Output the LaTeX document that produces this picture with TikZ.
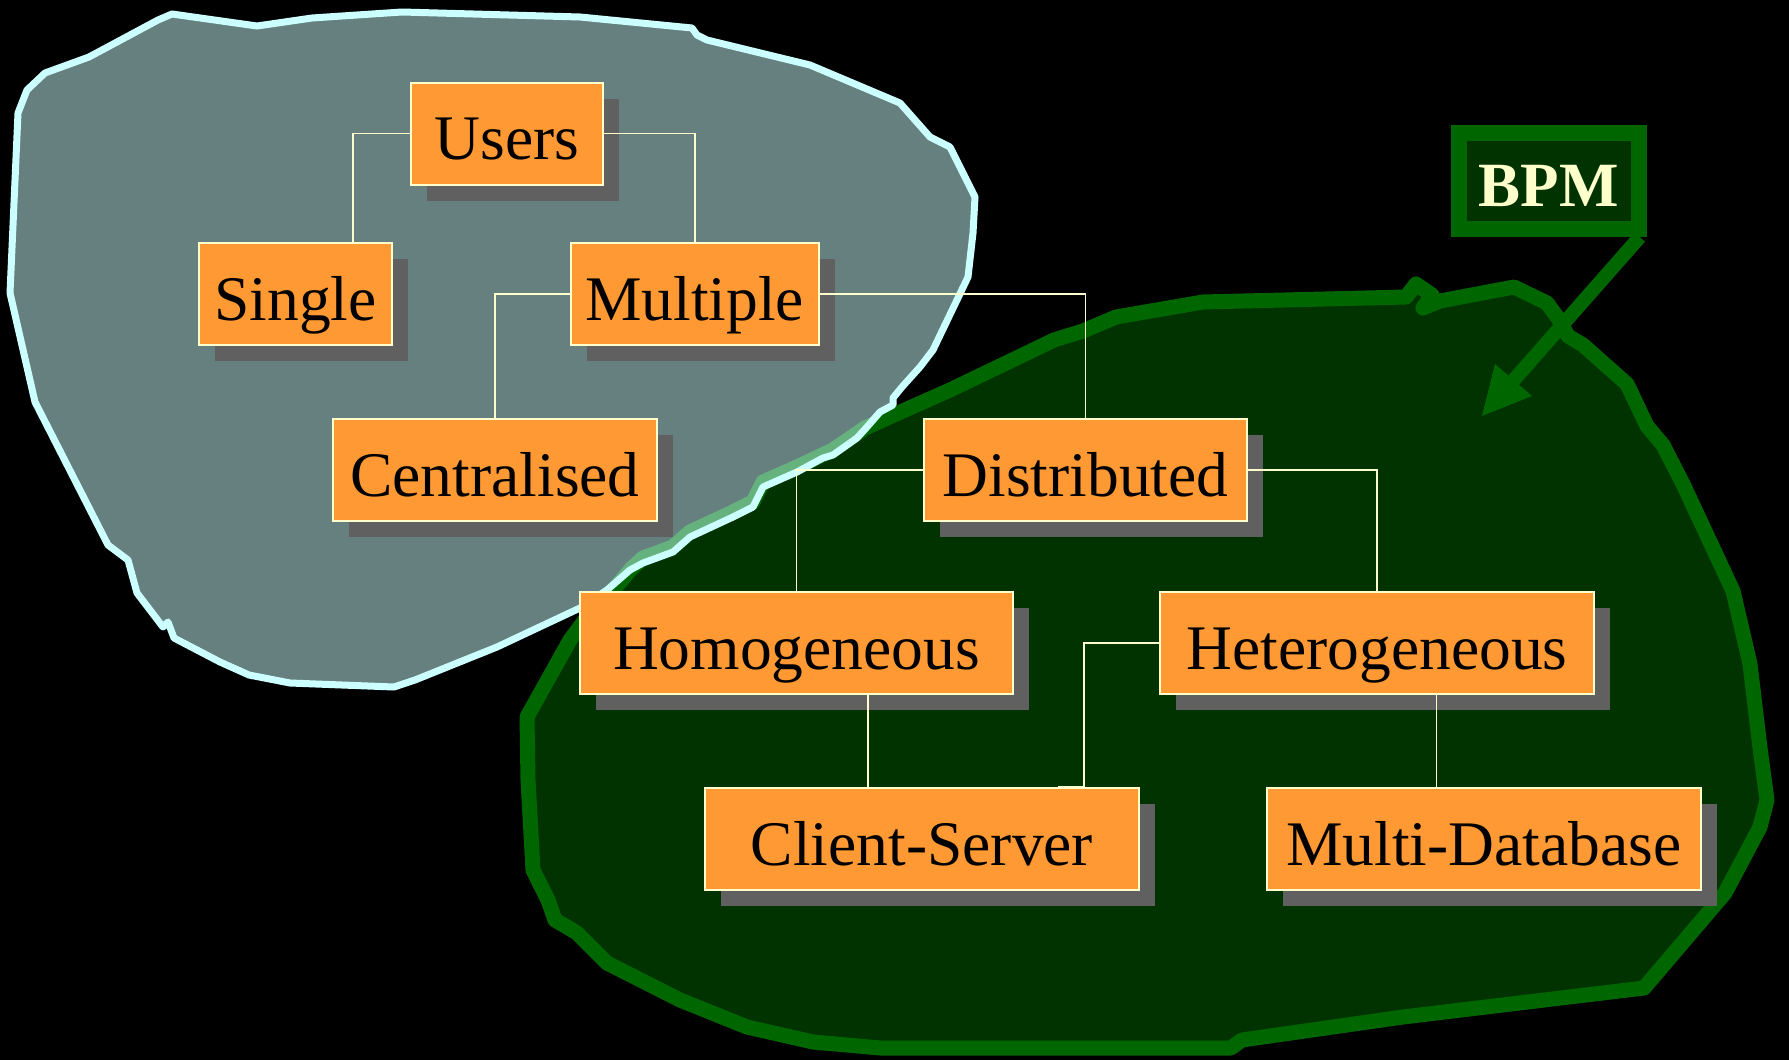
\documentclass[tikz,border=0pt]{standalone}
\usepackage{fontspec}
\setmainfont{Liberation Serif}
\usetikzlibrary{shadows}
\definecolor{bluegray}{RGB}{102,128,128}
\definecolor{paleblue}{RGB}{204,255,255}
\definecolor{midgreen}{RGB}{0,102,0}
\definecolor{deepgreen}{RGB}{0,51,0}
\definecolor{lightgreen}{RGB}{102,178,127}
\definecolor{boxorange}{RGB}{255,153,51}
\definecolor{cream}{RGB}{255,255,204}
\definecolor{shadowgray}{RGB}{96,96,96}
\newcommand{\LeftBlob}[1]{\path[#1] (172,14) -- (257,26) -- (312,18) -- (402,12) -- (580,17) -- (692,28) -- (697,35) -- (707,40) -- (810,65) -- (900,103) -- (930,137) -- (950,147) -- (975,197) -- (973,233) -- (968,277) -- (957,300) -- (933,350) -- (920,367) -- (902,387) -- (893,398) -- (893,405) -- (880,412) -- (867,427) -- (857,438) -- (833,455) -- (823,458) -- (797,472) -- (763,487) -- (753,507) -- (733,517) -- (690,537) -- (673,552) -- (643,563) -- (630,570) -- (607,590) -- (580,608) -- (497,647) -- (415,680) -- (394,687) -- (290,683) -- (249,675) -- (220,662) -- (174,638) -- (168,622) -- (163,627) -- (137,593) -- (128,560) -- (112,548) -- (108,545) -- (35,402) -- (10,293) -- (18,113) -- (27,90) -- (45,73) -- (89,57) -- (158,20) -- cycle;}
\newcommand{\RightBlob}[1]{\path[#1] (643,558) -- (673,547) -- (690,532) -- (733,512) -- (753,502) -- (763,482) -- (797,467) -- (833,450) -- (865,428) -- (905,410) -- (950,390) -- (1000,366) -- (1054,340) -- (1083,331) -- (1116,317) -- (1203,302) -- (1406,297) -- (1416,284) -- (1432,295) -- (1423,308) -- (1440,301) -- (1514,287) -- (1547,303) -- (1558,318) -- (1568,336) -- (1583,345) -- (1627,384) -- (1647,426) -- (1663,445) -- (1683,484) -- (1733,591) -- (1750,664) -- (1760,748) -- (1767,800) -- (1760,827) -- (1725,893) -- (1644,988) -- (1403,1017) -- (1242,1040) -- (1231,1048) -- (880,1048) -- (813,1042) -- (747,1027) -- (680,1000) -- (607,963) -- (577,933) -- (567,927) -- (555,920) -- (548,900) -- (533,870) -- (528,780) -- (527,717) -- (570,640) -- (585,620) -- (615,588) -- (632,568) -- cycle;}
\tikzset{
  catbox/.style={draw=cream, line width=2pt, line join=miter, fill=boxorange, text=black,
    inner sep=0pt, minimum height=102pt, text height=52pt, text depth=0pt,
    font=\fontsize{63.5}{70}\selectfont,
    drop shadow={shadow xshift=16pt, shadow yshift=-16pt, fill=shadowgray, opacity=1}},
  link/.style={draw=cream, line width=1.5pt, line join=miter},
  tagbox/.style={draw=midgreen, line width=16pt, line join=miter, fill=deepgreen, text=cream,
    minimum width=180pt, minimum height=96pt, inner sep=0pt,
    text height=51pt, text depth=0pt, font=\bfseries\fontsize{63}{70}\selectfont},
}
\begin{document}
\begin{tikzpicture}[x=1pt, y=-1pt, line join=round]
\useasboundingbox (0,0) rectangle (1789,1060);
\fill[black] (0,0) rectangle (1789,1060);
% right (green) region
\RightBlob{fill=deepgreen, draw=midgreen, line width=15pt}
% left (blue-gray) region
\LeftBlob{fill=bluegray}
\begin{scope}
  \LeftBlob{clip}
  \RightBlob{draw=lightgreen, line width=15pt}
\end{scope}
\LeftBlob{draw=paleblue, line width=7pt}
% boxes
\node[catbox, minimum width=192pt] (users) at (507,133.5) {Users};
\node[catbox, minimum width=193pt] (single) at (295.5,294) {Single};
\node[catbox, minimum width=248pt] (multiple) at (694.75,294) {Multiple};
\node[catbox, minimum width=324pt] (central) at (495,470) {Centralised};
\node[catbox, minimum width=323pt] (distrib) at (1085.5,470) {Distributed};
\node[catbox, minimum width=433pt] (homog) at (796.5,643) {Homogeneous};
\node[catbox, minimum width=434pt] (het) at (1377,643) {Heterogeneous};
\node[catbox, minimum width=434pt] (cs) at (922,839) {Client-Server};
\node[catbox, minimum width=434pt] (mdb) at (1483.75,839) {Multi-Database};
% connectors
\draw[link] (users.west) -| ([xshift=57.5pt]single.north);
\draw[link] (users.east) -| (multiple.north);
\draw[link] (multiple.west) -| (central.north);
\draw[link] (multiple.east) -| (distrib.north);
\draw[link] (distrib.west) -| (homog.north);
\draw[link] (distrib.east) -| (het.north);
\draw[link] ([xshift=71.5pt]homog.south) -- ([xshift=71.5pt]homog.south |- cs.north);
\draw[link] (het.west) -- ++(-75,0) |- ([xshift=136pt]cs.north);
\draw[link] ([xshift=59.5pt]het.south) -- ([xshift=59.5pt]het.south |- mdb.north);
% BPM label and arrow
\node[tagbox] (bpm) at (1548.7,181) {BPM};
\coordinate (tip) at (1482,416);
\coordinate (tipbase) at (1513,381);
\draw[midgreen, line width=14pt, line cap=butt] ([xshift=-7pt]bpm.south east) -- (tipbase);
\fill[midgreen] (tip) -- (1495,364) -- (1532,396) -- cycle;
\end{tikzpicture}
\end{document}
